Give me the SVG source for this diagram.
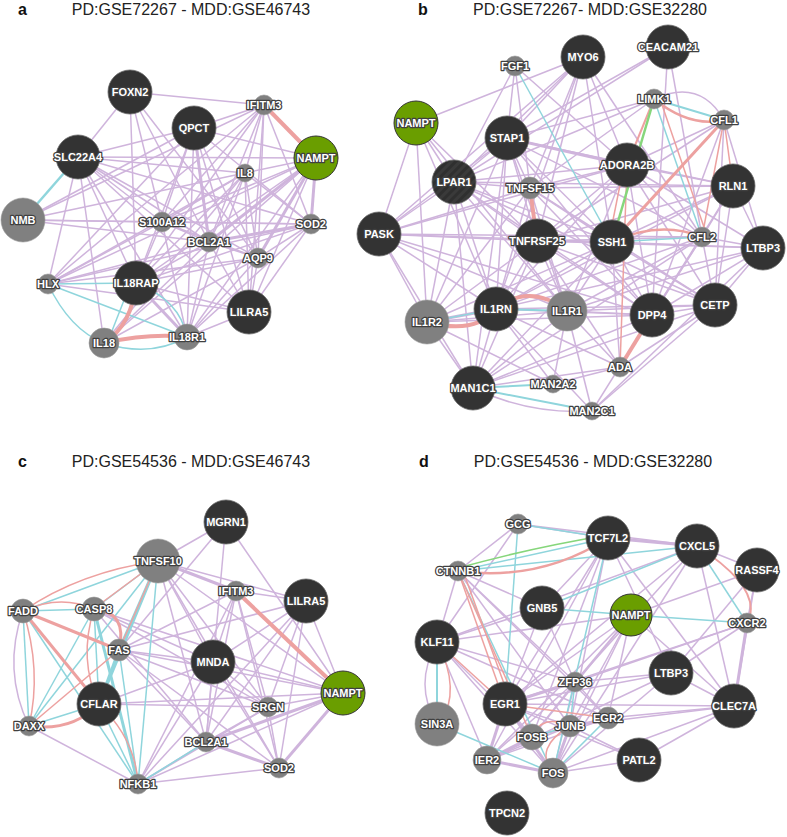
<svg xmlns="http://www.w3.org/2000/svg" width="787" height="837" viewBox="0 0 787 837">
<style>
.p{stroke:#cfb4dc;stroke-width:1.5;fill:none}
.pt{stroke:#cfb4dc;stroke-width:3;fill:none}
.c{stroke:#8fd5dc;stroke-width:1.5;fill:none}
.ct{stroke:#8fd5dc;stroke-width:3;fill:none}
.r{stroke:#eda1a0;stroke-width:1.5;fill:none}
.rt{stroke:#eda1a0;stroke-width:4;fill:none}
.g{stroke:#86d67b;stroke-width:2.5;fill:none}
.g1{stroke:#86d67b;stroke-width:1.5;fill:none}
.dk{fill:#333;stroke:#666;stroke-width:0.8}
.lp{fill:url(#stripe);stroke:#666;stroke-width:0.8}
.gy{fill:#808080;stroke:#9a9a9a;stroke-width:0.6}
.gn{fill:#6a9e00;stroke:#333;stroke-width:1}
.t{font-family:"Liberation Sans",Arial,sans-serif;font-weight:bold;font-size:11px;fill:#fff;text-anchor:middle;stroke:#404040;stroke-width:2.5;paint-order:stroke;stroke-linejoin:round}
.h{font-family:"Liberation Sans",Arial,sans-serif;font-size:16px;fill:#222;text-anchor:middle}
.l{font-family:"Liberation Sans",Arial,sans-serif;font-size:16px;font-weight:bold;fill:#111}
</style>
<defs>
<pattern id="stripe" width="6" height="6" patternUnits="userSpaceOnUse" patternTransform="rotate(45)">
<rect width="6" height="6" fill="#2f2f2f"/><rect width="3" height="6" fill="#3a3a3a"/>
</pattern>
</defs>
<rect width="787" height="837" fill="#fff"/>

<text class="l" x="18" y="15">a</text>
<text class="h" x="191" y="15">PD:GSE72267 - MDD:GSE46743</text>
<text class="l" x="418" y="15">b</text>
<text class="h" x="590" y="15">PD:GSE72267- MDD:GSE32280</text>
<text class="l" x="18" y="467">c</text>
<text class="h" x="191" y="467">PD:GSE54536 - MDD:GSE46743</text>
<text class="l" x="419" y="467">d</text>
<text class="h" x="593" y="467">PD:GSE54536 - MDD:GSE32280</text>

<g id="connectors-a">
<g class="p">
<path d="M130 92L264 105"/><path d="M130 92L78 157"/><path d="M130 92L162 222"/><path d="M130 92L209 242"/><path d="M130 92L258 258"/><path d="M130 92L136 283"/>
<path d="M194 128L78 157"/><path d="M194 128L264 105"/><path d="M194 128L316 158"/><path d="M194 128L162 222"/><path d="M194 128L258 258"/><path d="M194 128L249 312"/><path d="M194 128L136 283"/><path d="M194 128L48 284"/><path d="M194 128L187 337"/><path d="M194 128L311 224"/><path d="M194 128L23 220"/>
<path d="M78 157L316 158"/><path d="M78 157L245 173"/><path d="M78 157L48 284"/><path d="M78 157L136 283"/><path d="M78 157L162 222"/><path d="M78 157L209 242"/><path d="M78 157L258 258"/><path d="M78 157L311 224"/><path d="M78 157L104 343"/><path d="M78 157L187 337"/><path d="M78 157L249 312"/>
<path d="M23 220L245 173"/><path d="M23 220L311 224"/><path d="M23 220L162 222"/><path d="M23 220L209 242"/><path d="M23 220L264 105"/>
<path d="M264 105L245 173"/><path d="M264 105L162 222"/><path d="M264 105L209 242"/><path d="M264 105L258 258"/><path d="M264 105L249 312"/><path d="M264 105L48 284"/><path d="M264 105L136 283"/><path d="M264 105L311 224"/>
<path d="M316 158L245 173"/><path d="M316 158L162 222"/><path d="M316 158L249 312"/><path d="M316 158L136 283"/><path d="M316 158L187 337"/><path d="M316 158L48 284"/><path d="M316 158L104 343"/>
<path d="M245 173L162 222"/><path d="M245 173L209 242"/><path d="M245 173L258 258"/><path d="M245 173L311 224"/><path d="M245 173L48 284"/><path d="M245 173L136 283"/><path d="M245 173L187 337"/><path d="M245 173L249 312"/><path d="M245 173L104 343"/>
<path d="M162 222L209 242"/><path d="M162 222L258 258"/><path d="M162 222L311 224"/><path d="M162 222L48 284"/><path d="M162 222L136 283"/><path d="M162 222L187 337"/>
<path d="M311 224L258 258"/><path d="M311 224L48 284"/><path d="M311 224L136 283"/><path d="M311 224L249 312"/><path d="M311 224L187 337"/>
<path d="M209 242L258 258"/><path d="M209 242L48 284"/><path d="M209 242L136 283"/><path d="M209 242L187 337"/><path d="M209 242L249 312"/><path d="M209 242L104 343"/>
<path d="M258 258L48 284"/><path d="M258 258L136 283"/><path d="M258 258L187 337"/><path d="M258 258L249 312"/><path d="M258 258L104 343"/>
<path d="M48 284L249 312"/><path d="M136 283L249 312"/><path d="M249 312L187 337"/>
</g>
<g class="pt">
<path d="M194 128L209 242"/><path d="M311 224L209 242"/><path d="M316 158L311 224"/><path d="M316 158L258 258"/><path d="M316 158L209 242"/><path d="M136 283L187 337"/>
</g>
<g class="c">
<path d="M78 157L23 220" style="stroke-width:2.5"/><path d="M48 284L136 283"/><path d="M48 284Q70 330 104 343"/><path d="M48 284L187 337"/><path d="M136 283Q180 300 187 337"/><path d="M128 290L110 336"/><path d="M104 343Q150 358 187 337"/>
</g>
<g class="rt">
<path d="M264 105L316 158"/><path d="M136 283Q132 325 104 343"/><path d="M104 343Q150 333 187 337"/>
</g>
</g>

<g id="connectors-b">
<g class="p">
<path d="M416 123L583 57"/><path d="M583 57L507 138"/><path d="M583 57L454 182"/><path d="M583 57L530 188"/><path d="M583 57L537 241"/><path d="M583 57L612 242"/><path d="M583 57L627 165"/><path d="M583 57L702 237"/><path d="M583 57L496 309"/><path d="M583 57L379 234"/>
<path d="M668 47L507 138"/><path d="M668 47L702 237"/><path d="M668 47L652 315"/><path d="M668 47L454 182"/>
<path d="M515 66L507 138"/><path d="M515 66L454 182"/><path d="M515 66L627 165"/><path d="M515 66L530 188"/>
<path d="M416 123L454 182"/><path d="M416 123L379 234"/><path d="M416 123L427 322"/><path d="M416 123L537 241"/><path d="M416 123L496 309"/><path d="M416 123L567 311"/>
<path d="M654 99L507 138"/><path d="M654 99L454 182"/><path d="M654 99Q700 78 724 120"/><path d="M654 99L530 188"/>
<path d="M724 120L763 248"/><path d="M724 120L652 315"/><path d="M724 120L715 305"/><path d="M724 120L627 165"/><path d="M724 120L537 241"/>
<path d="M507 138L454 182"/><path d="M507 138L530 188"/><path d="M507 138L537 241"/><path d="M507 138L612 242"/><path d="M507 138L496 309"/><path d="M507 138L427 322"/><path d="M507 138L379 234"/><path d="M507 138L733 186"/><path d="M507 138L702 237"/><path d="M507 138L567 311"/><path d="M507 138L652 315"/><path d="M507 138L473 388"/>
<path d="M627 165L454 182"/><path d="M627 165L530 188"/><path d="M627 165L733 186"/><path d="M627 165L537 241"/><path d="M627 165L496 309"/><path d="M627 165L567 311"/><path d="M627 165L652 315"/><path d="M627 165L379 234"/><path d="M627 165L702 237"/><path d="M627 165L763 248"/><path d="M627 165L715 305"/>
<path d="M454 182L530 188"/><path d="M454 182L733 186"/><path d="M454 182L537 241"/><path d="M454 182L612 242"/><path d="M454 182L379 234"/><path d="M454 182L427 322"/><path d="M454 182L496 309"/><path d="M454 182L567 311"/><path d="M454 182L652 315"/><path d="M454 182L473 388"/><path d="M454 182L715 305"/>
<path d="M530 188L733 186"/><path d="M530 188L612 242"/><path d="M530 188L427 322"/><path d="M530 188L496 309"/><path d="M530 188L567 311"/><path d="M530 188L379 234"/><path d="M530 188L652 315"/><path d="M530 188L715 305"/>
<path d="M733 186L612 242"/><path d="M733 186L702 237"/><path d="M733 186L537 241"/><path d="M733 186L763 248"/><path d="M733 186L715 305"/><path d="M733 186L652 315"/><path d="M733 186L496 309"/>
<path d="M379 234L537 241"/><path d="M379 234L612 242"/><path d="M379 234L427 322"/><path d="M379 234L496 309"/><path d="M379 234L567 311"/><path d="M379 234L473 388"/><path d="M379 234L652 315"/><path d="M379 234L702 237"/>
<path d="M537 241L612 242"/><path d="M537 241L427 322"/><path d="M537 241L496 309"/><path d="M537 241L567 311"/><path d="M537 241L652 315"/><path d="M537 241L702 237"/><path d="M537 241L715 305"/><path d="M537 241L763 248"/><path d="M537 241L473 388"/><path d="M537 241L620 367"/>
<path d="M612 242L427 322"/><path d="M612 242L496 309"/><path d="M612 242L567 311"/><path d="M612 242L652 315"/><path d="M612 242L715 305"/><path d="M612 242L763 248"/><path d="M612 242L473 388"/><path d="M612 242L620 367"/>
<path d="M702 237L763 248"/><path d="M702 237L652 315"/><path d="M702 237L715 305"/><path d="M702 237L567 311"/><path d="M702 237L496 309"/><path d="M702 237L473 388"/><path d="M702 237L620 367"/>
<path d="M763 248L715 305"/><path d="M763 248L652 315"/><path d="M763 248L567 311"/><path d="M763 248L592 411"/><path d="M763 248L496 309"/>
<path d="M427 322L567 311"/><path d="M427 322L473 388"/><path d="M427 322L652 315"/><path d="M427 322L553 384"/>
<path d="M496 309L652 315"/><path d="M496 309L473 388"/><path d="M496 309L715 305"/><path d="M496 309L553 384"/><path d="M496 309L592 411"/><path d="M496 309L620 367"/>
<path d="M567 311L652 315"/><path d="M567 311L473 388"/><path d="M567 311L715 305"/><path d="M567 311L620 367"/><path d="M567 311L553 384"/><path d="M567 311L592 411"/>
<path d="M652 315L473 388"/><path d="M652 315L715 305"/><path d="M652 315L592 411"/>
<path d="M715 305L620 367"/><path d="M715 305L592 411"/><path d="M715 305L473 388"/>
<path d="M473 388L620 367"/><path d="M473 388Q530 415 592 411"/><path d="M553 384L620 367"/>
</g>
<g class="pt">
<path d="M507 138L627 165"/><path d="M427 322L496 309"/>
</g>
<g class="c">
<path d="M515 66L612 242"/><path d="M654 99L724 120" style="stroke-width:2"/><path d="M654 99L702 237"/><path d="M724 120L612 242"/><path d="M612 242L702 237"/><path d="M427 322L496 309"/><path d="M496 309L567 311" style="stroke-width:2"/><path d="M473 388L553 384" style="stroke-width:2"/><path d="M473 388L592 411" style="stroke-width:2"/>
</g>
<g class="r">
<path d="M654 99Q690 128 724 120" style="stroke-width:2.5"/><path d="M654 99L627 165" style="stroke-width:2"/><path d="M660 99L706 233"/><path d="M627 165L620 367"/><path d="M724 120L702 237"/><path d="M724 120L733 186"/><path d="M621 180L612 225"/><path d="M612 242Q660 220 702 237" style="stroke-width:2.5"/>
</g>
<path class="r" d="M724 120L612 242" style="stroke-width:3"/>
<path class="g" d="M654 99L612 242"/>
<g class="rt">
<path d="M530 188L537 241"/><path d="M496 309Q530 282 567 311"/><path d="M427 322Q475 335 496 309"/><path d="M652 315L620 367"/>
</g>
</g>

<g id="connectors-c">
<g class="p">
<path d="M158 561L226 522"/><path d="M158 561L343 693"/><path d="M158 561L213 662"/><path d="M158 561L268 707"/><path d="M158 561L206 742"/><path d="M158 561L279 768"/><path d="M158 561L306 601"/>
<path d="M226 522L343 693"/><path d="M226 522L206 742"/><path d="M226 522L119 650"/>
<path d="M94 609L213 662"/><path d="M94 609L343 693"/><path d="M94 609L268 707"/>
<path d="M119 650L213 662"/><path d="M119 650L343 693"/><path d="M119 650L268 707"/><path d="M119 650L206 742"/><path d="M119 650L279 768"/><path d="M119 650L306 601"/><path d="M119 650L236 591"/>
<path d="M99 704L343 693"/><path d="M99 704L268 707"/><path d="M99 704L213 662"/>
<path d="M29 726L138 784"/><path d="M23 611Q2 670 29 726"/>
<path d="M138 784L279 768"/><path d="M138 784L343 693"/><path d="M138 784L268 707"/><path d="M138 784L213 662"/><path d="M138 784L236 591"/><path d="M138 784L306 601"/><path d="M138 784L206 742"/>
<path d="M236 591L306 601"/><path d="M236 591L213 662"/><path d="M236 591L206 742"/><path d="M236 591L268 707"/><path d="M236 591L279 768"/>
<path d="M306 601L343 693"/><path d="M306 601L213 662"/><path d="M306 601L279 768"/><path d="M306 601L206 742"/><path d="M306 601L268 707"/>
<path d="M213 662L343 693"/><path d="M213 662L268 707"/><path d="M213 662L206 742"/><path d="M213 662L279 768"/>
<path d="M343 693L268 707"/><path d="M268 707L206 742"/><path d="M268 707L279 768"/><path d="M94 609L206 742"/>
</g>
<g class="pt">
<path d="M343 693L206 742"/><path d="M343 693L279 768"/><path d="M206 742L279 768"/><path d="M158 561L236 591"/>
</g>
<g class="c">
<path d="M158 561L23 611"/><path d="M158 561L94 609"/><path d="M158 561L138 784"/><path d="M158 561L29 726"/>
<path d="M23 611L94 609"/><path d="M23 611L99 704"/><path d="M23 611L138 784"/><path d="M23 611L29 726"/>
<path d="M94 609L99 704"/><path d="M94 609L29 726"/><path d="M119 650L138 784"/><path d="M99 704L29 726"/><path d="M99 704L138 784"/><path d="M138 784L206 742"/>
</g>
<g class="ct">
<path d="M158 561L119 650"/><path d="M158 561L99 704"/><path d="M94 609L138 784"/><path d="M119 650L99 704"/>
</g>
<g class="r">
<path d="M158 561Q80 572 23 611"/><path d="M158 561L96 607"/><path d="M158 561L119 650"/><path d="M23 611Q60 594 94 609"/><path d="M23 611Q42 670 29 726"/><path d="M94 609Q78 660 99 704"/><path d="M119 650L29 726"/><path d="M99 704Q136 740 138 784"/>
</g>
<g class="r" style="stroke-width:3">
<path d="M23 611L119 650"/><path d="M23 611L99 704"/><path d="M94 609Q128 612 119 650"/><path d="M99 704Q72 732 29 726"/>
</g>
<path class="rt" d="M236 591L343 693"/>
</g>

<g id="connectors-d">
<g class="p">
<path d="M518 524L608 538"/><path d="M518 524L697 546"/><path d="M518 524L458 571"/><path d="M518 524L437 642"/>
<path d="M608 538L542 608"/><path d="M608 538L505 704"/><path d="M608 538L532 737"/><path d="M608 538L671 673"/><path d="M608 538L734 706"/><path d="M608 538L487 760"/><path d="M608 538L570 726"/>
<path d="M697 546L757 570"/><path d="M697 546L505 704"/><path d="M697 546L575 682"/><path d="M697 546L734 706"/><path d="M697 546L553 773"/><path d="M697 546L437 642"/>
<path d="M757 570L747 623"/><path d="M757 570L734 706"/><path d="M757 570L671 673"/><path d="M757 570L631 615"/>
<path d="M458 571L437 642"/><path d="M458 571L570 726"/><path d="M458 571L575 682"/><path d="M458 571L542 608"/><path d="M458 571L608 718"/>
<path d="M542 608L505 704"/><path d="M542 608L437 642"/><path d="M542 608L575 682"/>
<path d="M631 615L575 682"/><path d="M631 615L505 704"/><path d="M631 615L570 726"/><path d="M631 615L553 773"/><path d="M631 615L532 737"/><path d="M631 615L608 718"/><path d="M631 615L487 760"/><path d="M631 615L437 642"/><path d="M631 615L734 706"/>
<path d="M747 623L671 673"/><path d="M747 623L505 704"/><path d="M747 623L575 682"/>
<path d="M437 642L553 773"/><path d="M437 642L487 760"/><path d="M437 642L575 682"/><path d="M437 642L608 718"/><path d="M437 642L532 737"/><path d="M437 642Q413 685 437 724"/>
<path d="M671 673L575 682"/><path d="M671 673L505 704"/><path d="M671 673L553 773"/><path d="M671 673L487 760"/><path d="M671 673L734 706"/>
<path d="M575 682L553 773"/><path d="M575 682L532 737"/><path d="M575 682L487 760"/><path d="M575 682L608 718"/>
<path d="M505 704L570 726"/><path d="M505 704L532 737"/><path d="M505 704L734 706"/>
<path d="M734 706L608 718"/><path d="M734 706L553 773"/><path d="M734 706L639 760"/><path d="M734 706L570 726"/>
<path d="M608 718L570 726"/><path d="M608 718L532 737"/><path d="M608 718L487 760"/><path d="M570 726L487 760"/>
<path d="M639 760L553 773"/><path d="M639 760L570 726"/><path d="M639 760L505 704"/>
</g>
<g class="pt">
<path d="M608 538L697 546"/><path d="M747 623L734 706"/><path d="M575 682L505 704"/><path d="M505 704L553 773"/><path d="M505 704L487 760"/><path d="M570 726L553 773"/><path d="M532 737L487 760"/><path d="M487 760L553 773"/>
</g>
<g class="c">
<path d="M518 524L608 538"/><path d="M518 524L505 704"/><path d="M458 571L608 538"/><path d="M458 571L697 546"/><path d="M458 571L553 773"/>
<path d="M542 608L631 615"/><path d="M542 608L697 546"/><path d="M631 615L747 623"/><path d="M697 546L747 623"/>
<path d="M437 642L437 724" style="stroke-width:2"/><path d="M437 724L553 773"/><path d="M608 538L553 773"/><path d="M575 682L570 726"/><path d="M608 718L553 773"/><path d="M532 737L570 726"/>
</g>
<path class="g1" d="M458 568Q530 548 608 535"/>
<g class="r">
<path d="M458 571Q540 582 608 538" style="stroke-width:2.5"/><path d="M458 571L505 704"/><path d="M463 571L510 700"/><path d="M458 571L532 737"/>
<path d="M697 546Q765 590 747 623" style="stroke-width:2"/><path d="M437 642L505 704"/><path d="M437 642Q462 690 440 724"/><path d="M505 704L608 718"/>
<path d="M532 737Q542 713 570 726"/><path d="M553 773Q533 748 570 726"/>
</g>
</g>

<g id="a-FOXN2"><circle class="dk" cx="130" cy="92" r="22"/><text class="t" x="130" y="96">FOXN2</text></g>
<g id="a-QPCT"><circle class="dk" cx="194" cy="128" r="22"/><text class="t" x="194" y="132">QPCT</text></g>
<g id="a-IFITM3"><circle class="gy" cx="264" cy="105" r="10"/><text class="t" x="264" y="109">IFITM3</text></g>
<g id="a-NAMPT"><circle class="gn" cx="316" cy="158" r="22"/><text class="t" x="316" y="162">NAMPT</text></g>
<g id="a-SLC22A4"><circle class="dk" cx="78" cy="157" r="22"/><text class="t" x="78" y="161">SLC22A4</text></g>
<g id="a-IL8"><circle class="gy" cx="245" cy="173" r="9"/><text class="t" x="245" y="177">IL8</text></g>
<g id="a-NMB"><circle class="gy" cx="23" cy="220" r="22"/><text class="t" x="23" y="224">NMB</text></g>
<g id="a-S100A12"><circle class="gy" cx="162" cy="222" r="10"/><text class="t" x="162" y="226">S100A12</text></g>
<g id="a-SOD2"><circle class="gy" cx="311" cy="224" r="10"/><text class="t" x="311" y="228">SOD2</text></g>
<g id="a-BCL2A1"><circle class="gy" cx="209" cy="242" r="10"/><text class="t" x="209" y="246">BCL2A1</text></g>
<g id="a-AQP9"><circle class="gy" cx="258" cy="258" r="10"/><text class="t" x="258" y="262">AQP9</text></g>
<g id="a-HLX"><circle class="gy" cx="48" cy="284" r="10"/><text class="t" x="48" y="288">HLX</text></g>
<g id="a-IL18RAP"><circle class="dk" cx="136" cy="283" r="22"/><text class="t" x="136" y="287">IL18RAP</text></g>
<g id="a-LILRA5"><circle class="dk" cx="249" cy="312" r="22"/><text class="t" x="249" y="316">LILRA5</text></g>
<g id="a-IL18"><circle class="gy" cx="104" cy="343" r="15"/><text class="t" x="104" y="347">IL18</text></g>
<g id="a-IL18R1"><circle class="gy" cx="187" cy="337" r="13"/><text class="t" x="187" y="341">IL18R1</text></g>

<g id="b-MYO6"><circle class="dk" cx="583" cy="57" r="22"/><text class="t" x="583" y="61">MYO6</text></g>
<g id="b-CEACAM21"><circle class="dk" cx="668" cy="47" r="22"/><text class="t" x="668" y="51">CEACAM21</text></g>
<g id="b-FGF1"><circle class="gy" cx="515" cy="66" r="10"/><text class="t" x="515" y="70">FGF1</text></g>
<g id="b-NAMPT"><circle class="gn" cx="416" cy="123" r="22"/><text class="t" x="416" y="127">NAMPT</text></g>
<g id="b-LIMK1"><circle class="gy" cx="654" cy="99" r="10"/><text class="t" x="654" y="103">LIMK1</text></g>
<g id="b-CFL1"><circle class="gy" cx="724" cy="120" r="10"/><text class="t" x="724" y="124">CFL1</text></g>
<g id="b-STAP1"><circle class="dk" cx="507" cy="138" r="22"/><text class="t" x="507" y="142">STAP1</text></g>
<g id="b-ADORA2B"><circle class="dk" cx="627" cy="165" r="22"/><text class="t" x="627" y="169">ADORA2B</text></g>
<g id="b-LPAR1"><circle class="lp" cx="454" cy="182" r="22"/><text class="t" x="454" y="186">LPAR1</text></g>
<g id="b-TNFSF15"><circle class="gy" cx="530" cy="188" r="11"/><text class="t" x="530" y="192">TNFSF15</text></g>
<g id="b-RLN1"><circle class="dk" cx="733" cy="186" r="22"/><text class="t" x="733" y="190">RLN1</text></g>
<g id="b-PASK"><circle class="dk" cx="379" cy="234" r="22"/><text class="t" x="379" y="238">PASK</text></g>
<g id="b-TNFRSF25"><circle class="dk" cx="537" cy="241" r="22"/><text class="t" x="537" y="245">TNFRSF25</text></g>
<g id="b-SSH1"><circle class="dk" cx="612" cy="242" r="22"/><text class="t" x="612" y="246">SSH1</text></g>
<g id="b-CFL2"><circle class="gy" cx="702" cy="237" r="10"/><text class="t" x="702" y="241">CFL2</text></g>
<g id="b-LTBP3"><circle class="dk" cx="763" cy="248" r="22"/><text class="t" x="763" y="252">LTBP3</text></g>
<g id="b-IL1R2"><circle class="gy" cx="427" cy="322" r="22"/><text class="t" x="427" y="326">IL1R2</text></g>
<g id="b-IL1RN"><circle class="dk" cx="496" cy="309" r="22"/><text class="t" x="496" y="313">IL1RN</text></g>
<g id="b-IL1R1"><circle class="gy" cx="567" cy="311" r="20"/><text class="t" x="567" y="315">IL1R1</text></g>
<g id="b-DPP4"><circle class="dk" cx="652" cy="315" r="22"/><text class="t" x="652" y="319">DPP4</text></g>
<g id="b-CETP"><circle class="dk" cx="715" cy="305" r="22"/><text class="t" x="715" y="309">CETP</text></g>
<g id="b-ADA"><circle class="gy" cx="620" cy="367" r="10"/><text class="t" x="620" y="371">ADA</text></g>
<g id="b-MAN1C1"><circle class="dk" cx="473" cy="388" r="22"/><text class="t" x="473" y="392">MAN1C1</text></g>
<g id="b-MAN2A2"><circle class="gy" cx="553" cy="384" r="9"/><text class="t" x="553" y="388">MAN2A2</text></g>
<g id="b-MAN2C1"><circle class="gy" cx="592" cy="411" r="9"/><text class="t" x="592" y="415">MAN2C1</text></g>

<g id="c-MGRN1"><circle class="dk" cx="226" cy="522" r="22"/><text class="t" x="226" y="526">MGRN1</text></g>
<g id="c-TNFSF10"><circle class="gy" cx="158" cy="561" r="22"/><text class="t" x="158" y="565">TNFSF10</text></g>
<g id="c-IFITM3"><circle class="gy" cx="236" cy="591" r="10"/><text class="t" x="236" y="595">IFITM3</text></g>
<g id="c-LILRA5"><circle class="dk" cx="306" cy="601" r="22"/><text class="t" x="306" y="605">LILRA5</text></g>
<g id="c-FADD"><circle class="gy" cx="23" cy="611" r="12"/><text class="t" x="23" y="615">FADD</text></g>
<g id="c-CASP8"><circle class="gy" cx="94" cy="609" r="12"/><text class="t" x="94" y="613">CASP8</text></g>
<g id="c-FAS"><circle class="gy" cx="119" cy="650" r="11"/><text class="t" x="119" y="654">FAS</text></g>
<g id="c-MNDA"><circle class="dk" cx="213" cy="662" r="22"/><text class="t" x="213" y="666">MNDA</text></g>
<g id="c-NAMPT"><circle class="gn" cx="343" cy="693" r="22"/><text class="t" x="343" y="697">NAMPT</text></g>
<g id="c-CFLAR"><circle class="dk" cx="99" cy="704" r="22"/><text class="t" x="99" y="708">CFLAR</text></g>
<g id="c-SRGN"><circle class="gy" cx="268" cy="707" r="10"/><text class="t" x="268" y="711">SRGN</text></g>
<g id="c-DAXX"><circle class="gy" cx="29" cy="726" r="10"/><text class="t" x="29" y="730">DAXX</text></g>
<g id="c-BCL2A1"><circle class="gy" cx="206" cy="742" r="10"/><text class="t" x="206" y="746">BCL2A1</text></g>
<g id="c-SOD2"><circle class="gy" cx="279" cy="768" r="10"/><text class="t" x="279" y="772">SOD2</text></g>
<g id="c-NFKB1"><circle class="gy" cx="138" cy="784" r="10"/><text class="t" x="138" y="788">NFKB1</text></g>

<g id="d-GCG"><circle class="gy" cx="518" cy="524" r="10"/><text class="t" x="518" y="528">GCG</text></g>
<g id="d-TCF7L2"><circle class="dk" cx="608" cy="538" r="22"/><text class="t" x="608" y="542">TCF7L2</text></g>
<g id="d-CXCL5"><circle class="dk" cx="697" cy="546" r="22"/><text class="t" x="697" y="550">CXCL5</text></g>
<g id="d-RASSF4"><circle class="dk" cx="757" cy="570" r="22"/><text class="t" x="757" y="574">RASSF4</text></g>
<g id="d-CTNNB1"><circle class="gy" cx="458" cy="571" r="10"/><text class="t" x="458" y="575">CTNNB1</text></g>
<g id="d-GNB5"><circle class="dk" cx="542" cy="608" r="22"/><text class="t" x="542" y="612">GNB5</text></g>
<g id="d-NAMPT"><circle class="gn" cx="631" cy="615" r="21"/><text class="t" x="631" y="619">NAMPT</text></g>
<g id="d-CXCR2"><circle class="gy" cx="747" cy="623" r="10"/><text class="t" x="747" y="627">CXCR2</text></g>
<g id="d-KLF11"><circle class="dk" cx="437" cy="642" r="22"/><text class="t" x="437" y="646">KLF11</text></g>
<g id="d-LTBP3"><circle class="dk" cx="671" cy="673" r="22"/><text class="t" x="671" y="677">LTBP3</text></g>
<g id="d-ZFP36"><circle class="gy" cx="575" cy="682" r="10"/><text class="t" x="575" y="686">ZFP36</text></g>
<g id="d-EGR1"><circle class="dk" cx="505" cy="704" r="22"/><text class="t" x="505" y="708">EGR1</text></g>
<g id="d-CLEC7A"><circle class="dk" cx="734" cy="706" r="22"/><text class="t" x="734" y="710">CLEC7A</text></g>
<g id="d-SIN3A"><circle class="gy" cx="437" cy="724" r="22"/><text class="t" x="437" y="728">SIN3A</text></g>
<g id="d-EGR2"><circle class="gy" cx="608" cy="718" r="11"/><text class="t" x="608" y="722">EGR2</text></g>
<g id="d-JUNB"><circle class="gy" cx="570" cy="726" r="11"/><text class="t" x="570" y="730">JUNB</text></g>
<g id="d-FOSB"><circle class="gy" cx="532" cy="737" r="13"/><text class="t" x="532" y="741">FOSB</text></g>
<g id="d-IER2"><circle class="gy" cx="487" cy="760" r="14"/><text class="t" x="487" y="764">IER2</text></g>
<g id="d-FOS"><circle class="gy" cx="553" cy="773" r="15"/><text class="t" x="553" y="777">FOS</text></g>
<g id="d-PATL2"><circle class="dk" cx="639" cy="760" r="22"/><text class="t" x="639" y="764">PATL2</text></g>
<g id="d-TPCN2"><circle class="dk" cx="507" cy="813" r="22"/><text class="t" x="507" y="817">TPCN2</text></g>
</svg>
